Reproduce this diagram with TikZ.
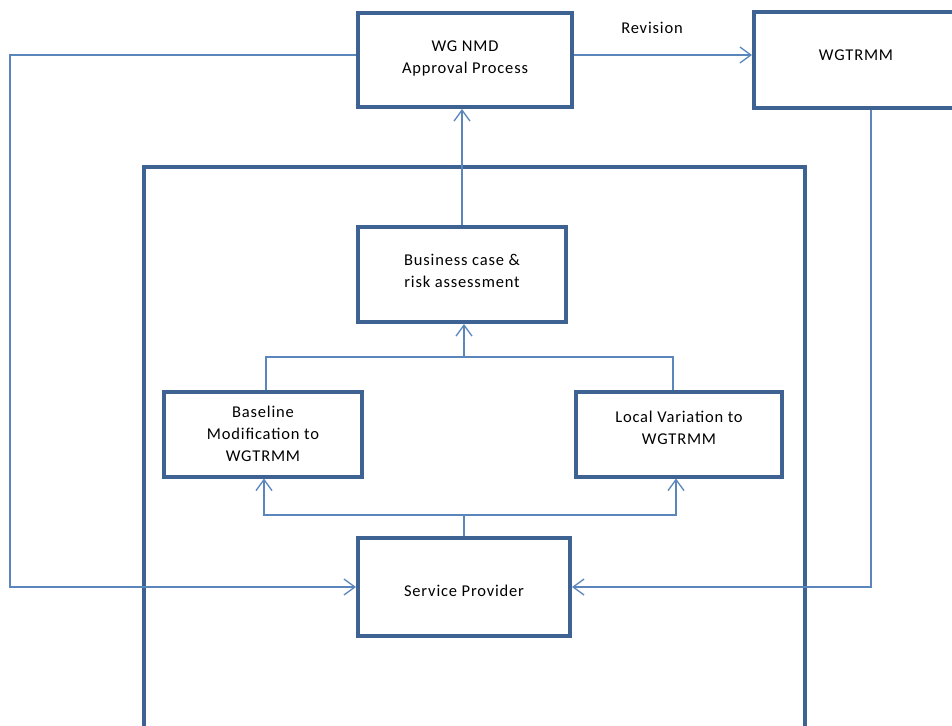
\documentclass[tikz,border=0pt]{standalone}
\usepackage{fontspec}
\setmainfont[LetterSpace=5]{Carlito}
\usepackage{xcolor}
\usepackage{tikz}
\usetikzlibrary{positioning,arrows.meta,calc}
\definecolor{boxline}{HTML}{3E6291}
\definecolor{flow}   {HTML}{5B86BC}

\begin{document}
\begin{tikzpicture}[x=1pt,y=-1pt,font=\fontsize{16.5}{22}\selectfont,
  blk/.style={draw=boxline,line width=4pt,fill=white,align=center,
              inner sep=0pt},
  frm/.style={draw=boxline,line width=3.2pt},
  ln/.style={color=flow,line width=1.3pt},
  ar/.style={ln,-{Straight Barb[length=11pt,width=16pt,line width=1.3pt]}}]
  \clip (0,0) rectangle (952,725);
  \fill[white] (0,0) rectangle (952,725);

  \draw[frm] (144,167) rectangle (805,760);

  \node[blk,minimum width=214,minimum height=94] (wgnmd) at (465,60)
    {\raisebox{2pt}[\height][\depth]{\begin{tabular}{@{}c@{}}WG NMD\\Approval Process\end{tabular}}};
  \node[blk,minimum width=204,minimum height=95] (wgtrmm) at (856,60)
    {\raisebox{5pt}[\height][\depth]{WGTRMM}};
  \node[blk,minimum width=208,minimum height=95] (bcase) at (462,274.5)
    {\raisebox{2pt}[\height][\depth]{\begin{tabular}{@{}c@{}}Business case \&\\risk assessment\end{tabular}}};
  \node[blk,minimum width=198,minimum height=85] (baseline) at (263,434)
    {Baseline\\Modification to\\WGTRMM};
  \node[blk,minimum width=206,minimum height=85] (localvar) at (679,434)
    {\raisebox{5pt}[\height][\depth]{\begin{tabular}{@{}c@{}}Local Variation to\\WGTRMM\end{tabular}}};
  \node[blk,minimum width=212,minimum height=98] (provider) at (464,587)
    {\raisebox{-4pt}[\height][\depth]{Service Provider}};
  \node (rev) at (652,28) {Revision};

  \coordinate (lft) at (10,300);
  \coordinate (upj) at (464,357);
  \coordinate (dnj) at (464,515);

  \draw[ar] ([yshift=5pt]wgnmd.east) -- ([yshift=5pt]wgtrmm.west);
  \draw[ar] ([yshift=5pt]wgnmd.west) -| (lft) |- (provider.west);
  \draw[ar] ([xshift=15pt]wgtrmm.south) |- (provider.east);
  \draw[ar] (bcase.north) -- (bcase.north |- wgnmd.south);
  \draw[ln] ([xshift=3pt]baseline.north) |- (upj) -| ([xshift=-6pt]localvar.north);
  \draw[ar] (upj) -- (upj |- bcase.south);
  \draw[ln] (provider.north) -- (dnj);
  \draw[ar] (dnj) -| ([xshift=1pt]baseline.south);
  \draw[ar] (dnj) -| ([xshift=-3pt]localvar.south);
\end{tikzpicture}
\end{document}
